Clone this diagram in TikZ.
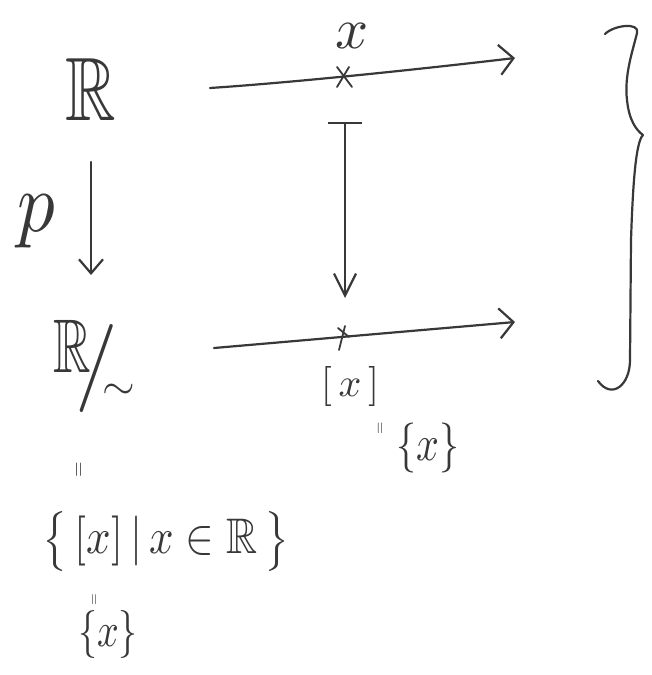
\documentclass[tikz,border=0pt]{standalone}
\usepackage{amssymb}
\usetikzlibrary{arrows.meta}
\definecolor{pencil}{HTML}{383838}
\begin{document}
\begin{tikzpicture}[
  x=1pt, y=-1pt,
  stroke/.style={draw=pencil, line width=2.2pt, line cap=round, line join=round},
  lbl/.style={inner sep=0pt, outer sep=0pt, text=pencil},
  hbarb/.style={-{Straight Barb[length=14pt,width=30pt]}},
  vbarb/.style={-{Straight Barb[length=14pt,width=24pt]}},
  mapsto/.style={{Bar[width=34pt]}-{Straight Barb[length=22pt,width=22pt]}},
]
\useasboundingbox[fill=white] (0,0) rectangle (651,675);

% objects of the left column
\node[lbl, xscale=7, yscale=9] (R) at (91,89) {$\mathbb{R}$};
\node[lbl, xscale=7.5, yscale=8.5] (p) at (36,221) {$p$};
% the quotient R/~, set as one piece
\node[lbl, anchor=base west] (quot) at (53.5,372)
  {\scalebox{5.2}[7.6]{$\mathbb{R}$}\kern-15.25pt%
   \raisebox{-18pt}{\scalebox{8.5}[8.8]{$/$}}\kern-15.6pt%
   \raisebox{-27.7pt}{\scalebox{4.2}{$\sim$}}};
\node[lbl, scale=2, rotate=90] (eqA) at (80,470) {$=$};
\node[lbl, xscale=4.3, yscale=5] (set) at (166,541) {$\bigl\{\,[x]\,|\,x\in\mathbb{R}\,\bigr\}$};
\node[lbl, scale=1.5, rotate=90] (eqB) at (95,600) {$=$};
\node[lbl, xscale=3.8, yscale=4.8] (single) at (108,634) {$\{x\}$};

% projection p
\coordinate (pEnd) at (91,320);
\draw[stroke, vbarb, shorten <=42pt, shorten >=45pt] (R.south) -- (pEnd);

% the two real lines
\coordinate (topL) at (210,88);
\coordinate (topR) at (515,58);
\coordinate (topX) at (345,77);
\coordinate (botL) at (214,348);
\coordinate (botR) at (515,322);
\coordinate (botX) at (343,336);

\draw[stroke, hbarb] (topL) .. controls (300,82) and (430,68) .. (topR);
\draw[stroke, hbarb] (botL) -- (botR);

% marked points
\draw[stroke, line width=1.8pt] (topX) ++(-8,-10) -- ++(15,20);
\draw[stroke, line width=1.8pt] (topX) ++(4,-10) -- ++(-12,20);
\draw[stroke, line width=1.8pt] (botX) ++(-5,-8) -- ++(11,9);
\draw[stroke, line width=1.8pt] (botX) ++(2,-10) -- ++(-6,24);

\node[lbl, scale=5.8] (xlab) at (352,36) {$x$};
\node[lbl, scale=4] (cls) at (350,386) {$[\,x\,]$};
\node[lbl, scale=1.6, rotate=90] (eqC) at (381,428) {$=$};
\node[lbl, xscale=4, yscale=5] (singleR) at (428,448) {$\{x\}$};

% x maps to its class
\draw[stroke, mapsto, shorten <=45pt, shorten >=38pt] (topX) -- (topX |- botX);

% right-hand brace
\draw[stroke] (605,34) .. controls (614,25) and (640,22) .. (637,33)
  .. controls (633,50) and (624,75) .. (627,100)
  .. controls (629,120) and (636,130) .. (643,135)
  .. controls (636,142) and (633,180) .. (631,240)
  -- (630,360) .. controls (630,385) and (612,400) .. (598,381);
\end{tikzpicture}
\end{document}
